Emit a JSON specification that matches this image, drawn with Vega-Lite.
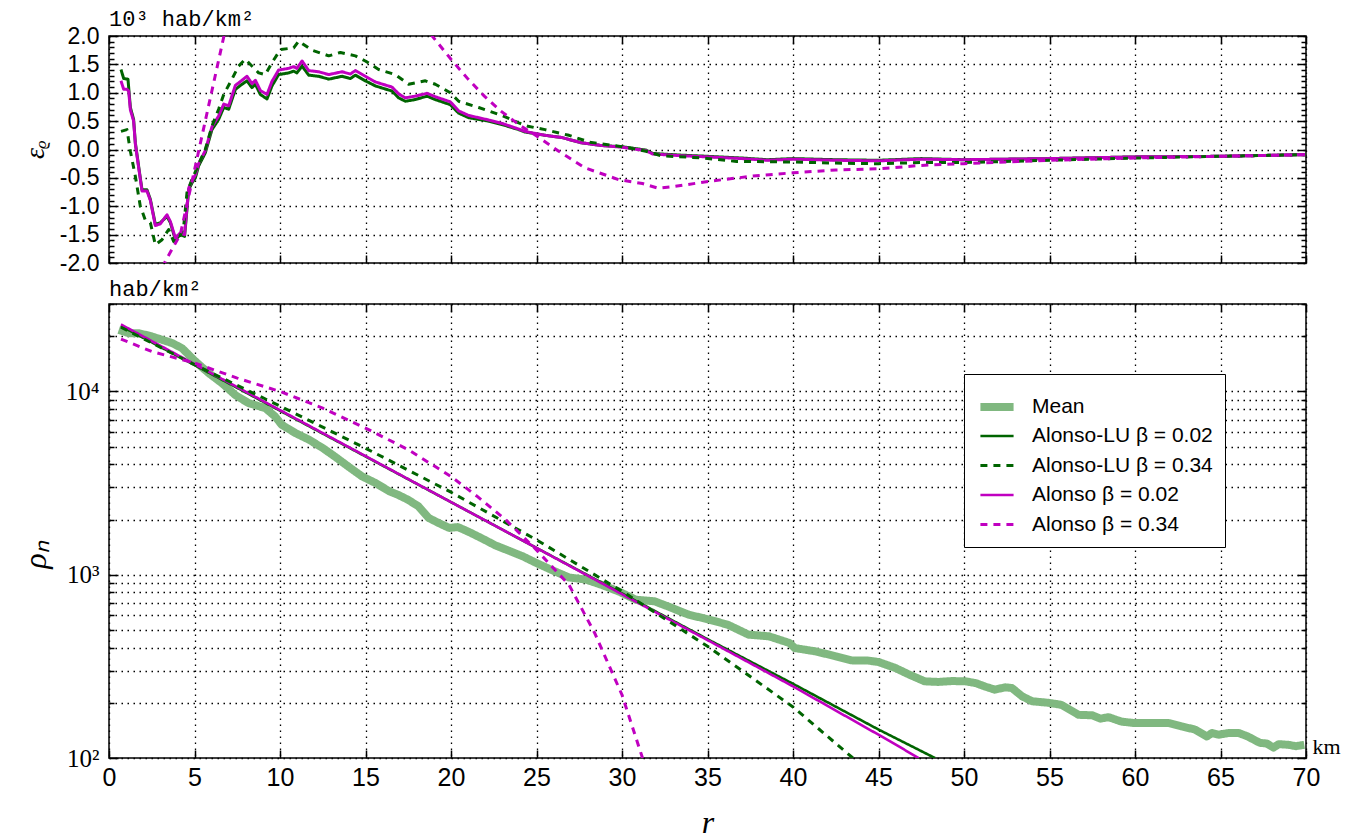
{
  "$schema": "https://vega.github.io/schema/vega-lite/v6.json",
  "padding": {"left": 18, "top": 7, "right": 5, "bottom": 2},
  "background": "white",
  "spacing": 1,
  "datasets": {
    "eps": [
      {"s":"Alonso-LU β = 0.02","r":0.7,"e":1.41},{"s":"Alonso-LU β = 0.02","r":0.86,"e":1.25},{"s":"Alonso-LU β = 0.02","r":1.11,"e":1.24},{"s":"Alonso-LU β = 0.02","r":1.25,"e":0.74},{"s":"Alonso-LU β = 0.02","r":1.44,"e":0.53},{"s":"Alonso-LU β = 0.02","r":1.54,"e":0.12},{"s":"Alonso-LU β = 0.02","r":1.73,"e":-0.29},{"s":"Alonso-LU β = 0.02","r":1.93,"e":-0.71},{"s":"Alonso-LU β = 0.02","r":2.22,"e":-0.71},{"s":"Alonso-LU β = 0.02","r":2.42,"e":-0.88},{"s":"Alonso-LU β = 0.02","r":2.71,"e":-1.32},{"s":"Alonso-LU β = 0.02","r":3.0,"e":-1.29},{"s":"Alonso-LU β = 0.02","r":3.39,"e":-1.18},{"s":"Alonso-LU β = 0.02","r":3.59,"e":-1.29},{"s":"Alonso-LU β = 0.02","r":3.88,"e":-1.59},{"s":"Alonso-LU β = 0.02","r":4.17,"e":-1.5},{"s":"Alonso-LU β = 0.02","r":4.42,"e":-1.53},{"s":"Alonso-LU β = 0.02","r":4.66,"e":-0.71},{"s":"Alonso-LU β = 0.02","r":4.85,"e":-0.59},{"s":"Alonso-LU β = 0.02","r":5.05,"e":-0.5},{"s":"Alonso-LU β = 0.02","r":5.24,"e":-0.29},{"s":"Alonso-LU β = 0.02","r":5.63,"e":-0.06},{"s":"Alonso-LU β = 0.02","r":6.02,"e":0.35},{"s":"Alonso-LU β = 0.02","r":6.41,"e":0.53},{"s":"Alonso-LU β = 0.02","r":6.71,"e":0.74},{"s":"Alonso-LU β = 0.02","r":7.0,"e":0.71},{"s":"Alonso-LU β = 0.02","r":7.39,"e":1.06},{"s":"Alonso-LU β = 0.02","r":7.78,"e":1.15},{"s":"Alonso-LU β = 0.02","r":8.07,"e":1.21},{"s":"Alonso-LU β = 0.02","r":8.36,"e":1.09},{"s":"Alonso-LU β = 0.02","r":8.56,"e":1.15},{"s":"Alonso-LU β = 0.02","r":8.85,"e":0.97},{"s":"Alonso-LU β = 0.02","r":9.24,"e":0.89},{"s":"Alonso-LU β = 0.02","r":9.53,"e":1.12},{"s":"Alonso-LU β = 0.02","r":9.92,"e":1.32},{"s":"Alonso-LU β = 0.02","r":10.51,"e":1.35},{"s":"Alonso-LU β = 0.02","r":10.8,"e":1.38},{"s":"Alonso-LU β = 0.02","r":10.99,"e":1.35},{"s":"Alonso-LU β = 0.02","r":11.29,"e":1.47},{"s":"Alonso-LU β = 0.02","r":11.68,"e":1.31},{"s":"Alonso-LU β = 0.02","r":12.26,"e":1.29},{"s":"Alonso-LU β = 0.02","r":12.85,"e":1.24},{"s":"Alonso-LU β = 0.02","r":13.63,"e":1.29},{"s":"Alonso-LU β = 0.02","r":14.11,"e":1.25},{"s":"Alonso-LU β = 0.02","r":14.41,"e":1.31},{"s":"Alonso-LU β = 0.02","r":14.99,"e":1.21},{"s":"Alonso-LU β = 0.02","r":15.58,"e":1.12},{"s":"Alonso-LU β = 0.02","r":16.55,"e":1.03},{"s":"Alonso-LU β = 0.02","r":16.94,"e":0.91},{"s":"Alonso-LU β = 0.02","r":17.33,"e":0.85},{"s":"Alonso-LU β = 0.02","r":17.91,"e":0.88},{"s":"Alonso-LU β = 0.02","r":18.6,"e":0.94},{"s":"Alonso-LU β = 0.02","r":19.08,"e":0.88},{"s":"Alonso-LU β = 0.02","r":19.96,"e":0.79},{"s":"Alonso-LU β = 0.02","r":20.45,"e":0.64},{"s":"Alonso-LU β = 0.02","r":21.03,"e":0.56},{"s":"Alonso-LU β = 0.02","r":21.62,"e":0.53},{"s":"Alonso-LU β = 0.02","r":22.2,"e":0.5},{"s":"Alonso-LU β = 0.02","r":22.98,"e":0.44},{"s":"Alonso-LU β = 0.02","r":23.96,"e":0.35},{"s":"Alonso-LU β = 0.02","r":24.3,"e":0.31},{"s":"Alonso-LU β = 0.02","r":25.5,"e":0.25},{"s":"Alonso-LU β = 0.02","r":26.5,"e":0.21},{"s":"Alonso-LU β = 0.02","r":27.6,"e":0.12},{"s":"Alonso-LU β = 0.02","r":28.8,"e":0.07},{"s":"Alonso-LU β = 0.02","r":30,"e":0.05},{"s":"Alonso-LU β = 0.02","r":31.4,"e":-0.01},{"s":"Alonso-LU β = 0.02","r":31.8,"e":-0.07},{"s":"Alonso-LU β = 0.02","r":33.5,"e":-0.1},{"s":"Alonso-LU β = 0.02","r":35,"e":-0.12},{"s":"Alonso-LU β = 0.02","r":37,"e":-0.15},{"s":"Alonso-LU β = 0.02","r":38.5,"e":-0.18},{"s":"Alonso-LU β = 0.02","r":40,"e":-0.16},{"s":"Alonso-LU β = 0.02","r":42.5,"e":-0.18},{"s":"Alonso-LU β = 0.02","r":45,"e":-0.19},{"s":"Alonso-LU β = 0.02","r":47.5,"e":-0.16},{"s":"Alonso-LU β = 0.02","r":50,"e":-0.18},{"s":"Alonso-LU β = 0.02","r":55,"e":-0.16},{"s":"Alonso-LU β = 0.02","r":60,"e":-0.13},{"s":"Alonso-LU β = 0.02","r":65,"e":-0.12},{"s":"Alonso-LU β = 0.02","r":70,"e":-0.09},
      {"s":"Alonso β = 0.02","r":0.7,"e":1.21},{"s":"Alonso β = 0.02","r":0.86,"e":1.06},{"s":"Alonso β = 0.02","r":1.05,"e":1.06},{"s":"Alonso β = 0.02","r":1.15,"e":1.03},{"s":"Alonso β = 0.02","r":1.25,"e":0.7},{"s":"Alonso β = 0.02","r":1.44,"e":0.5},{"s":"Alonso β = 0.02","r":1.54,"e":0.1},{"s":"Alonso β = 0.02","r":1.73,"e":-0.31},{"s":"Alonso β = 0.02","r":1.93,"e":-0.73},{"s":"Alonso β = 0.02","r":2.22,"e":-0.73},{"s":"Alonso β = 0.02","r":2.42,"e":-0.9},{"s":"Alonso β = 0.02","r":2.71,"e":-1.34},{"s":"Alonso β = 0.02","r":3.0,"e":-1.31},{"s":"Alonso β = 0.02","r":3.39,"e":-1.15},{"s":"Alonso β = 0.02","r":3.59,"e":-1.27},{"s":"Alonso β = 0.02","r":3.88,"e":-1.56},{"s":"Alonso β = 0.02","r":4.17,"e":-1.47},{"s":"Alonso β = 0.02","r":4.42,"e":-1.5},{"s":"Alonso β = 0.02","r":4.66,"e":-0.68},{"s":"Alonso β = 0.02","r":4.85,"e":-0.55},{"s":"Alonso β = 0.02","r":5.05,"e":-0.45},{"s":"Alonso β = 0.02","r":5.24,"e":-0.25},{"s":"Alonso β = 0.02","r":5.63,"e":-0.02},{"s":"Alonso β = 0.02","r":6.02,"e":0.4},{"s":"Alonso β = 0.02","r":6.41,"e":0.59},{"s":"Alonso β = 0.02","r":6.71,"e":0.8},{"s":"Alonso β = 0.02","r":7.0,"e":0.77},{"s":"Alonso β = 0.02","r":7.39,"e":1.13},{"s":"Alonso β = 0.02","r":7.78,"e":1.22},{"s":"Alonso β = 0.02","r":8.07,"e":1.29},{"s":"Alonso β = 0.02","r":8.36,"e":1.16},{"s":"Alonso β = 0.02","r":8.56,"e":1.22},{"s":"Alonso β = 0.02","r":8.85,"e":1.04},{"s":"Alonso β = 0.02","r":9.24,"e":0.97},{"s":"Alonso β = 0.02","r":9.53,"e":1.2},{"s":"Alonso β = 0.02","r":9.92,"e":1.4},{"s":"Alonso β = 0.02","r":10.51,"e":1.43},{"s":"Alonso β = 0.02","r":10.8,"e":1.46},{"s":"Alonso β = 0.02","r":10.99,"e":1.43},{"s":"Alonso β = 0.02","r":11.29,"e":1.56},{"s":"Alonso β = 0.02","r":11.68,"e":1.39},{"s":"Alonso β = 0.02","r":12.26,"e":1.37},{"s":"Alonso β = 0.02","r":12.85,"e":1.32},{"s":"Alonso β = 0.02","r":13.63,"e":1.37},{"s":"Alonso β = 0.02","r":14.11,"e":1.33},{"s":"Alonso β = 0.02","r":14.41,"e":1.39},{"s":"Alonso β = 0.02","r":14.99,"e":1.29},{"s":"Alonso β = 0.02","r":15.58,"e":1.19},{"s":"Alonso β = 0.02","r":16.55,"e":1.1},{"s":"Alonso β = 0.02","r":16.94,"e":0.98},{"s":"Alonso β = 0.02","r":17.33,"e":0.91},{"s":"Alonso β = 0.02","r":17.91,"e":0.94},{"s":"Alonso β = 0.02","r":18.6,"e":0.99},{"s":"Alonso β = 0.02","r":19.08,"e":0.93},{"s":"Alonso β = 0.02","r":19.96,"e":0.84},{"s":"Alonso β = 0.02","r":20.45,"e":0.68},{"s":"Alonso β = 0.02","r":21.03,"e":0.6},{"s":"Alonso β = 0.02","r":21.62,"e":0.56},{"s":"Alonso β = 0.02","r":22.2,"e":0.52},{"s":"Alonso β = 0.02","r":22.98,"e":0.46},{"s":"Alonso β = 0.02","r":23.96,"e":0.36},{"s":"Alonso β = 0.02","r":24.3,"e":0.32},{"s":"Alonso β = 0.02","r":25.5,"e":0.25},{"s":"Alonso β = 0.02","r":26.5,"e":0.21},{"s":"Alonso β = 0.02","r":27.6,"e":0.12},{"s":"Alonso β = 0.02","r":28.8,"e":0.07},{"s":"Alonso β = 0.02","r":30,"e":0.04},{"s":"Alonso β = 0.02","r":31.4,"e":-0.02},{"s":"Alonso β = 0.02","r":31.8,"e":-0.08},{"s":"Alonso β = 0.02","r":33.5,"e":-0.11},{"s":"Alonso β = 0.02","r":35,"e":-0.13},{"s":"Alonso β = 0.02","r":37,"e":-0.16},{"s":"Alonso β = 0.02","r":38.5,"e":-0.19},{"s":"Alonso β = 0.02","r":40,"e":-0.17},{"s":"Alonso β = 0.02","r":42.5,"e":-0.19},{"s":"Alonso β = 0.02","r":45,"e":-0.2},{"s":"Alonso β = 0.02","r":47.5,"e":-0.17},{"s":"Alonso β = 0.02","r":50,"e":-0.18},{"s":"Alonso β = 0.02","r":55,"e":-0.16},{"s":"Alonso β = 0.02","r":60,"e":-0.13},{"s":"Alonso β = 0.02","r":65,"e":-0.12},{"s":"Alonso β = 0.02","r":70,"e":-0.09},
      {"s":"Alonso-LU β = 0.34","r":0.7,"e":0.32},{"s":"Alonso-LU β = 0.34","r":1.05,"e":0.35},{"s":"Alonso-LU β = 0.34","r":1.25,"e":-0.03},{"s":"Alonso-LU β = 0.34","r":1.54,"e":-0.47},{"s":"Alonso-LU β = 0.34","r":1.83,"e":-1.0},{"s":"Alonso-LU β = 0.34","r":2.12,"e":-1.24},{"s":"Alonso-LU β = 0.34","r":2.42,"e":-1.29},{"s":"Alonso-LU β = 0.34","r":2.71,"e":-1.68},{"s":"Alonso-LU β = 0.34","r":3.1,"e":-1.59},{"s":"Alonso-LU β = 0.34","r":3.49,"e":-1.41},{"s":"Alonso-LU β = 0.34","r":3.78,"e":-1.62},{"s":"Alonso-LU β = 0.34","r":4.07,"e":-1.59},{"s":"Alonso-LU β = 0.34","r":4.37,"e":-1.35},{"s":"Alonso-LU β = 0.34","r":4.56,"e":-0.76},{"s":"Alonso-LU β = 0.34","r":4.85,"e":-0.53},{"s":"Alonso-LU β = 0.34","r":5.24,"e":-0.26},{"s":"Alonso-LU β = 0.34","r":5.63,"e":0.0},{"s":"Alonso-LU β = 0.34","r":6.02,"e":0.41},{"s":"Alonso-LU β = 0.34","r":6.41,"e":0.71},{"s":"Alonso-LU β = 0.34","r":6.71,"e":0.97},{"s":"Alonso-LU β = 0.34","r":7.19,"e":1.24},{"s":"Alonso-LU β = 0.34","r":7.58,"e":1.47},{"s":"Alonso-LU β = 0.34","r":7.97,"e":1.59},{"s":"Alonso-LU β = 0.34","r":8.46,"e":1.44},{"s":"Alonso-LU β = 0.34","r":8.75,"e":1.35},{"s":"Alonso-LU β = 0.34","r":9.14,"e":1.32},{"s":"Alonso-LU β = 0.34","r":9.53,"e":1.53},{"s":"Alonso-LU β = 0.34","r":10.02,"e":1.76},{"s":"Alonso-LU β = 0.34","r":10.51,"e":1.78},{"s":"Alonso-LU β = 0.34","r":10.8,"e":1.79},{"s":"Alonso-LU β = 0.34","r":11.09,"e":1.91},{"s":"Alonso-LU β = 0.34","r":11.38,"e":1.85},{"s":"Alonso-LU β = 0.34","r":11.87,"e":1.75},{"s":"Alonso-LU β = 0.34","r":12.85,"e":1.65},{"s":"Alonso-LU β = 0.34","r":13.53,"e":1.71},{"s":"Alonso-LU β = 0.34","r":14.41,"e":1.65},{"s":"Alonso-LU β = 0.34","r":14.99,"e":1.56},{"s":"Alonso-LU β = 0.34","r":15.77,"e":1.41},{"s":"Alonso-LU β = 0.34","r":16.74,"e":1.32},{"s":"Alonso-LU β = 0.34","r":17.52,"e":1.15},{"s":"Alonso-LU β = 0.34","r":18.5,"e":1.21},{"s":"Alonso-LU β = 0.34","r":19.08,"e":1.15},{"s":"Alonso-LU β = 0.34","r":19.96,"e":1.0},{"s":"Alonso-LU β = 0.34","r":20.45,"e":0.85},{"s":"Alonso-LU β = 0.34","r":21.62,"e":0.74},{"s":"Alonso-LU β = 0.34","r":22.98,"e":0.6},{"s":"Alonso-LU β = 0.34","r":23.96,"e":0.47},{"s":"Alonso-LU β = 0.34","r":24.5,"e":0.41},{"s":"Alonso-LU β = 0.34","r":25.5,"e":0.35},{"s":"Alonso-LU β = 0.34","r":26.9,"e":0.25},{"s":"Alonso-LU β = 0.34","r":28.1,"e":0.13},{"s":"Alonso-LU β = 0.34","r":30,"e":0.05},{"s":"Alonso-LU β = 0.34","r":31.4,"e":-0.03},{"s":"Alonso-LU β = 0.34","r":32.3,"e":-0.11},{"s":"Alonso-LU β = 0.34","r":34.7,"e":-0.15},{"s":"Alonso-LU β = 0.34","r":36.7,"e":-0.21},{"s":"Alonso-LU β = 0.34","r":40,"e":-0.22},{"s":"Alonso-LU β = 0.34","r":42.5,"e":-0.24},{"s":"Alonso-LU β = 0.34","r":45,"e":-0.25},{"s":"Alonso-LU β = 0.34","r":47.5,"e":-0.23},{"s":"Alonso-LU β = 0.34","r":50,"e":-0.23},{"s":"Alonso-LU β = 0.34","r":55,"e":-0.19},{"s":"Alonso-LU β = 0.34","r":60,"e":-0.15},{"s":"Alonso-LU β = 0.34","r":65,"e":-0.12},{"s":"Alonso-LU β = 0.34","r":70,"e":-0.09},
      {"s":"Alonso β = 0.34","r":2.9,"e":-2.3},{"s":"Alonso β = 0.34","r":3.29,"e":-1.97},{"s":"Alonso β = 0.34","r":3.7,"e":-1.75},{"s":"Alonso β = 0.34","r":4.17,"e":-1.5},{"s":"Alonso β = 0.34","r":6.7,"e":1.97},{"s":"Alonso β = 0.34","r":7.2,"e":2.6},{"s":"Alonso β = 0.34","r":10,"e":3.2},{"s":"Alonso β = 0.34","r":15,"e":2.9},{"s":"Alonso β = 0.34","r":18.5,"e":2.3},{"s":"Alonso β = 0.34","r":18.9,"e":2.0},{"s":"Alonso β = 0.34","r":20.0,"e":1.59},{"s":"Alonso β = 0.34","r":21.0,"e":1.24},{"s":"Alonso β = 0.34","r":21.95,"e":0.94},{"s":"Alonso β = 0.34","r":22.9,"e":0.68},{"s":"Alonso β = 0.34","r":24.1,"e":0.41},{"s":"Alonso β = 0.34","r":24.9,"e":0.26},{"s":"Alonso β = 0.34","r":26.3,"e":-0.03},{"s":"Alonso β = 0.34","r":27.8,"e":-0.32},{"s":"Alonso β = 0.34","r":29.8,"e":-0.53},{"s":"Alonso β = 0.34","r":31.2,"e":-0.6},{"s":"Alonso β = 0.34","r":32.1,"e":-0.68},{"s":"Alonso β = 0.34","r":33.1,"e":-0.65},{"s":"Alonso β = 0.34","r":35.1,"e":-0.56},{"s":"Alonso β = 0.34","r":37.6,"e":-0.47},{"s":"Alonso β = 0.34","r":40,"e":-0.41},{"s":"Alonso β = 0.34","r":42.5,"e":-0.36},{"s":"Alonso β = 0.34","r":45,"e":-0.34},{"s":"Alonso β = 0.34","r":47.5,"e":-0.28},{"s":"Alonso β = 0.34","r":50,"e":-0.25},{"s":"Alonso β = 0.34","r":55,"e":-0.19},{"s":"Alonso β = 0.34","r":60,"e":-0.15},{"s":"Alonso β = 0.34","r":65,"e":-0.12},{"s":"Alonso β = 0.34","r":70,"e":-0.09}
    ],
    "rho": [
      {"s":"Mean","r":0.57,"v":21680},{"s":"Mean","r":1.15,"v":20800},{"s":"Mean","r":1.73,"v":20800},{"s":"Mean","r":2.51,"v":19950},{"s":"Mean","r":3.1,"v":19140},{"s":"Mean","r":3.69,"v":18370},{"s":"Mean","r":4.27,"v":17220},{"s":"Mean","r":4.66,"v":15850},{"s":"Mean","r":5.05,"v":14590},{"s":"Mean","r":5.83,"v":12590},{"s":"Mean","r":6.61,"v":11090},{"s":"Mean","r":7.39,"v":9550},{"s":"Mean","r":8.17,"v":8630},{"s":"Mean","r":9.14,"v":8110},{"s":"Mean","r":9.71,"v":7310},{"s":"Mean","r":10.1,"v":6580},{"s":"Mean","r":10.9,"v":5930},{"s":"Mean","r":11.7,"v":5450},{"s":"Mean","r":12.5,"v":4910},{"s":"Mean","r":13.2,"v":4420},{"s":"Mean","r":14.0,"v":3890},{"s":"Mean","r":14.8,"v":3440},{"s":"Mean","r":15.6,"v":3160},{"s":"Mean","r":16.4,"v":2850},{"s":"Mean","r":16.9,"v":2730},{"s":"Mean","r":17.5,"v":2560},{"s":"Mean","r":18.1,"v":2360},{"s":"Mean","r":18.7,"v":2040},{"s":"Mean","r":19.3,"v":1910},{"s":"Mean","r":19.9,"v":1800},{"s":"Mean","r":20.4,"v":1820},{"s":"Mean","r":21.0,"v":1720},{"s":"Mean","r":21.8,"v":1580},{"s":"Mean","r":22.6,"v":1445},{"s":"Mean","r":23.4,"v":1350},{"s":"Mean","r":24.2,"v":1260},{"s":"Mean","r":24.9,"v":1170},{"s":"Mean","r":25.9,"v":1060},{"s":"Mean","r":26.9,"v":966},{"s":"Mean","r":27.9,"v":940},{"s":"Mean","r":28.8,"v":881},{"s":"Mean","r":29.8,"v":811},{"s":"Mean","r":30.8,"v":731},{"s":"Mean","r":31.9,"v":716},{"s":"Mean","r":32.7,"v":671},{"s":"Mean","r":33.9,"v":605},{"s":"Mean","r":35.1,"v":569},{"s":"Mean","r":36.2,"v":533},{"s":"Mean","r":37.4,"v":471},{"s":"Mean","r":38.6,"v":461},{"s":"Mean","r":39.8,"v":424},{"s":"Mean","r":40.1,"v":398},{"s":"Mean","r":41.3,"v":382},{"s":"Mean","r":42.5,"v":359},{"s":"Mean","r":43.4,"v":341},{"s":"Mean","r":44.4,"v":340},{"s":"Mean","r":45.0,"v":334},{"s":"Mean","r":45.98,"v":310},{"s":"Mean","r":46.8,"v":285},{"s":"Mean","r":47.7,"v":262},{"s":"Mean","r":48.5,"v":260},{"s":"Mean","r":49.3,"v":263},{"s":"Mean","r":50.1,"v":262},{"s":"Mean","r":50.7,"v":256},{"s":"Mean","r":51.2,"v":246},{"s":"Mean","r":51.8,"v":236},{"s":"Mean","r":52.4,"v":243},{"s":"Mean","r":52.8,"v":241},{"s":"Mean","r":53.4,"v":217},{"s":"Mean","r":53.98,"v":204},{"s":"Mean","r":54.96,"v":200},{"s":"Mean","r":55.7,"v":195},{"s":"Mean","r":56.7,"v":172},{"s":"Mean","r":57.5,"v":171},{"s":"Mean","r":57.97,"v":164},{"s":"Mean","r":58.46,"v":167},{"s":"Mean","r":59.2,"v":158},{"s":"Mean","r":60.0,"v":155},{"s":"Mean","r":61.2,"v":155},{"s":"Mean","r":61.97,"v":155},{"s":"Mean","r":62.7,"v":149},{"s":"Mean","r":63.5,"v":143},{"s":"Mean","r":64.2,"v":131},{"s":"Mean","r":64.5,"v":137},{"s":"Mean","r":64.9,"v":134},{"s":"Mean","r":65.5,"v":137},{"s":"Mean","r":66.06,"v":137},{"s":"Mean","r":66.6,"v":131},{"s":"Mean","r":67.3,"v":121},{"s":"Mean","r":67.7,"v":120},{"s":"Mean","r":68.1,"v":114},{"s":"Mean","r":68.4,"v":119},{"s":"Mean","r":68.98,"v":118},{"s":"Mean","r":69.4,"v":116},{"s":"Mean","r":69.9,"v":118},
      {"s":"Alonso-LU β = 0.02","r":0.7,"v":22750},{"s":"Alonso-LU β = 0.02","r":5,"v":13930},{"s":"Alonso-LU β = 0.02","r":10,"v":7850},{"s":"Alonso-LU β = 0.02","r":15,"v":4420},{"s":"Alonso-LU β = 0.02","r":20,"v":2490},{"s":"Alonso-LU β = 0.02","r":25,"v":1400},{"s":"Alonso-LU β = 0.02","r":30,"v":790},{"s":"Alonso-LU β = 0.02","r":35,"v":445},{"s":"Alonso-LU β = 0.02","r":40,"v":254},{"s":"Alonso-LU β = 0.02","r":45,"v":143},{"s":"Alonso-LU β = 0.02","r":48.3,"v":100},
      {"s":"Alonso β = 0.02","r":0.7,"v":23200},{"s":"Alonso β = 0.02","r":5,"v":14090},{"s":"Alonso β = 0.02","r":10,"v":7910},{"s":"Alonso β = 0.02","r":15,"v":4440},{"s":"Alonso β = 0.02","r":20,"v":2490},{"s":"Alonso β = 0.02","r":25,"v":1400},{"s":"Alonso β = 0.02","r":30,"v":783},{"s":"Alonso β = 0.02","r":35,"v":440},{"s":"Alonso β = 0.02","r":40,"v":246},{"s":"Alonso β = 0.02","r":45,"v":134},{"s":"Alonso β = 0.02","r":47.35,"v":100},
      {"s":"Alonso-LU β = 0.34","r":0.7,"v":22400},{"s":"Alonso-LU β = 0.34","r":5,"v":14000},{"s":"Alonso-LU β = 0.34","r":10,"v":8320},{"s":"Alonso-LU β = 0.34","r":15,"v":4900},{"s":"Alonso-LU β = 0.34","r":20,"v":2820},{"s":"Alonso-LU β = 0.34","r":25,"v":1550},{"s":"Alonso-LU β = 0.34","r":30,"v":813},{"s":"Alonso-LU β = 0.34","r":35,"v":407},{"s":"Alonso-LU β = 0.34","r":40,"v":190},{"s":"Alonso-LU β = 0.34","r":43.5,"v":100},
      {"s":"Alonso β = 0.34","r":0.7,"v":19300},{"s":"Alonso β = 0.34","r":2.5,"v":16520},{"s":"Alonso β = 0.34","r":5,"v":14290},{"s":"Alonso β = 0.34","r":7.5,"v":11830},{"s":"Alonso β = 0.34","r":10,"v":10000},{"s":"Alonso β = 0.34","r":12.5,"v":8110},{"s":"Alonso β = 0.34","r":15,"v":6310},{"s":"Alonso β = 0.34","r":17.5,"v":4810},{"s":"Alonso β = 0.34","r":20,"v":3436},{"s":"Alonso β = 0.34","r":21.5,"v":2690},{"s":"Alonso β = 0.34","r":23.2,"v":1995},{"s":"Alonso β = 0.34","r":24.9,"v":1396},{"s":"Alonso β = 0.34","r":26.9,"v":881},{"s":"Alonso β = 0.34","r":28.4,"v":481},{"s":"Alonso β = 0.34","r":30,"v":221},{"s":"Alonso β = 0.34","r":31.2,"v":100}
    ]
  },
  "vconcat": [
    {
      "width": 1197,
      "height": 227,
      "title": {"text": "10³ hab/km²", "anchor": "start", "frame": "group", "font": "Liberation Mono", "fontSize": 22, "fontWeight": "normal", "offset": -6, "color": "#000"},
      "data": {"name": "eps"},
      "layer": [
        {
          "mark": {"type": "line", "opacity": 0, "clip": true},
          "encoding": {
            "x": {"field": "r", "type": "quantitative", "scale": {"domain": [0, 70], "nice": false, "zero": false},
                  "axis": {"orient": "top", "values": [0,5,10,15,20,25,30,35,40,45,50,55,60,65,70], "labels": false, "grid": false, "tickSize": -8, "title": null}},
            "y": {"field": "e", "type": "quantitative", "scale": {"domain": [-2, 2], "nice": false, "zero": false},
                  "axis": {"orient": "right", "values": [-2,-1.9,-1.8,-1.7,-1.6,-1.5,-1.4,-1.3,-1.2,-1.1,-1,-0.9,-0.8,-0.7,-0.6,-0.5,-0.4,-0.3,-0.2,-0.1,0,0.1,0.2,0.3,0.4,0.5,0.6,0.7,0.8,0.9,1,1.1,1.2,1.3,1.4,1.5,1.6,1.7,1.8,1.9,2],
                           "labels": false, "grid": false, "tickSize": -9, "title": null,
                           "tickDash": {"condition": {"test": "abs(round(datum.value*10)) % 5 != 0", "value": [5, 40]}, "value": [1, 0]}}}
          }
        },
        {
          "mark": {"type": "line", "clip": true, "strokeWidth": 3},
          "encoding": {
            "x": {"field": "r", "type": "quantitative", "scale": {"domain": [0, 70], "nice": false, "zero": false},
                  "axis": {"orient": "bottom", "values": [0,5,10,15,20,25,30,35,40,45,50,55,60,65,70], "labels": false, "grid": true, "tickSize": -8, "title": null}},
            "y": {"field": "e", "type": "quantitative", "scale": {"domain": [-2, 2], "nice": false, "zero": false},
                  "axis": {"orient": "left", "values": [-2,-1.9,-1.8,-1.7,-1.6,-1.5,-1.4,-1.3,-1.2,-1.1,-1,-0.9,-0.8,-0.7,-0.6,-0.5,-0.4,-0.3,-0.2,-0.1,0,0.1,0.2,0.3,0.4,0.5,0.6,0.7,0.8,0.9,1,1.1,1.2,1.3,1.4,1.5,1.6,1.7,1.8,1.9,2],
                           "grid": true, "tickSize": -9, "labelPadding": 19, "labelFontSize": 23, "labelFlush": false,
                           "labelExpr": "abs(round(datum.value*10)) % 5 == 0 ? replace(format(datum.value, '.1f'), '−', '-') : ''",
                           "gridOpacity": {"condition": {"test": "abs(round(datum.value*10)) % 5 == 0", "value": 1}, "value": 0},
                           "tickDash": {"condition": {"test": "abs(round(datum.value*10)) % 5 != 0", "value": [5, 40]}, "value": [1, 0]},
                           "title": "εᵨ", "titleFont": "Liberation Serif", "titleFontStyle": "italic", "titleFontSize": 28, "titleX": -74, "titleY": 113, "titleBaseline": "middle", "titleAlign": "center", "titleAngle": -90}},
            "color": {"field": "s", "type": "nominal", "legend": null,
                      "scale": {"domain": ["Alonso-LU β = 0.02", "Alonso β = 0.02", "Alonso-LU β = 0.34", "Alonso β = 0.34"], "range": ["#006400", "#c000c0", "#006400", "#c000c0"]}},
            "strokeDash": {"field": "s", "type": "nominal", "legend": null,
                      "scale": {"domain": ["Alonso-LU β = 0.02", "Alonso β = 0.02", "Alonso-LU β = 0.34", "Alonso β = 0.34"], "range": [[1, 0], [1, 0], [7, 6], [7, 6]]}}
          }
        }
      ],
      "resolve": {"axis": {"x": "independent", "y": "independent"}}
    },
    {
      "width": 1197,
      "height": 454,
      "title": {"text": "hab/km²", "anchor": "start", "frame": "group", "font": "Liberation Mono", "fontSize": 22, "fontWeight": "normal", "offset": 2, "color": "#000"},
      "data": {"name": "rho"},
      "layer": [
        {
          "mark": {"type": "line", "opacity": 0, "clip": true},
          "encoding": {
            "x": {"field": "r", "type": "quantitative", "scale": {"domain": [0, 70], "nice": false, "zero": false},
                  "axis": {"orient": "top", "values": [0,5,10,15,20,25,30,35,40,45,50,55,60,65,70], "labels": false, "grid": false, "tickSize": -8, "title": null}},
            "y": {"field": "v", "type": "quantitative", "scale": {"type": "log", "domain": [100, 30000], "nice": false},
                  "axis": {"orient": "right", "values": [100,200,300,400,500,600,700,800,900,1000,2000,3000,4000,5000,6000,7000,8000,9000,10000,20000,30000],
                           "labels": false, "grid": false, "tickSize": -9,
                           "tickDash": {"condition": {"test": "datum.value != 100 && datum.value != 1000 && datum.value != 10000", "value": [5, 40]}, "value": [1, 0]},
                           "title": "km", "titleFont": "Liberation Serif", "titleFontSize": 22, "titleFontWeight": "normal", "titleAngle": 0, "titleX": 6, "titleY": 449, "titleAlign": "left", "titleBaseline": "alphabetic"}}
          }
        },
        {
          "mark": {"type": "line", "clip": true},
          "encoding": {
            "x": {"field": "r", "type": "quantitative", "scale": {"domain": [0, 70], "nice": false, "zero": false},
                  "axis": {"orient": "bottom", "values": [0,5,10,15,20,25,30,35,40,45,50,55,60,65,70], "grid": true, "tickSize": -8, "labelPadding": 15, "labelFontSize": 25, "labelFlush": false,
                           "title": "r", "titleFont": "Liberation Serif", "titleFontStyle": "italic", "titleFontSize": 32, "titleY": 74, "titleBaseline": "alphabetic"}},
            "y": {"field": "v", "type": "quantitative", "scale": {"type": "log", "domain": [100, 30000], "nice": false},
                  "axis": {"orient": "left", "values": [100,200,300,400,500,600,700,800,900,1000,2000,3000,4000,5000,6000,7000,8000,9000,10000,20000,30000],
                           "grid": true, "tickSize": -9, "labelPadding": 19, "labelFont": "Liberation Serif", "labelFontSize": 25, "labelFlush": false,
                           "labelExpr": "datum.value == 100 ? '10²' : datum.value == 1000 ? '10³' : datum.value == 10000 ? '10⁴' : ''",
                           "tickDash": {"condition": {"test": "datum.value != 100 && datum.value != 1000 && datum.value != 10000", "value": [5, 40]}, "value": [1, 0]},
                           "title": "ρₙ", "titleFont": "Liberation Serif", "titleFontStyle": "italic", "titleFontSize": 32, "titleX": -74, "titleY": 250, "titleBaseline": "middle", "titleAlign": "center", "titleAngle": -90}},
            "color": {"field": "s", "type": "nominal",
                      "scale": {"domain": ["Mean", "Alonso-LU β = 0.02", "Alonso-LU β = 0.34", "Alonso β = 0.02", "Alonso β = 0.34"], "range": ["#80b880", "#006400", "#006400", "#c000c0", "#c000c0"]},
                      "legend": {"orient": "none", "legendX": 855, "legendY": 70, "title": null, "symbolType": "stroke", "symbolSize": 1100, "labelFont": "Liberation Sans", "labelFontSize": 21, "labelColor": "#000", "labelLimit": 400, "strokeColor": "#000", "fillColor": "#fff", "padding": 12, "rowPadding": 1, "labelOffset": 14}},
            "strokeDash": {"field": "s", "type": "nominal",
                      "scale": {"domain": ["Mean", "Alonso-LU β = 0.02", "Alonso-LU β = 0.34", "Alonso β = 0.02", "Alonso β = 0.34"], "range": [[1, 0], [1, 0], [7, 6], [1, 0], [7, 6]]}},
            "strokeWidth": {"field": "s", "type": "nominal",
                      "scale": {"type": "ordinal", "domain": ["Mean", "Alonso-LU β = 0.02", "Alonso-LU β = 0.34", "Alonso β = 0.02", "Alonso β = 0.34"], "range": [8, 2.6, 3, 2.6, 3]}}
          }
        }
      ],
      "resolve": {"axis": {"x": "independent", "y": "independent"}}
    }
  ],
  "resolve": {"scale": {"color": "independent", "strokeDash": "independent", "strokeWidth": "independent"}},
  "config": {
    "view": {"stroke": "#000", "strokeWidth": 1.5},
    "axis": {"domain": false, "gridColor": "#000", "gridDash": [1.5, 4.5], "gridWidth": 1.3, "tickColor": "#000", "tickWidth": 1.5, "labelColor": "#000", "labelFont": "Liberation Sans", "labelFontSize": 24, "titleColor": "#000", "titleFontWeight": "normal"},
    "line": {"strokeJoin": "round", "strokeCap": "butt"}
  }
}
